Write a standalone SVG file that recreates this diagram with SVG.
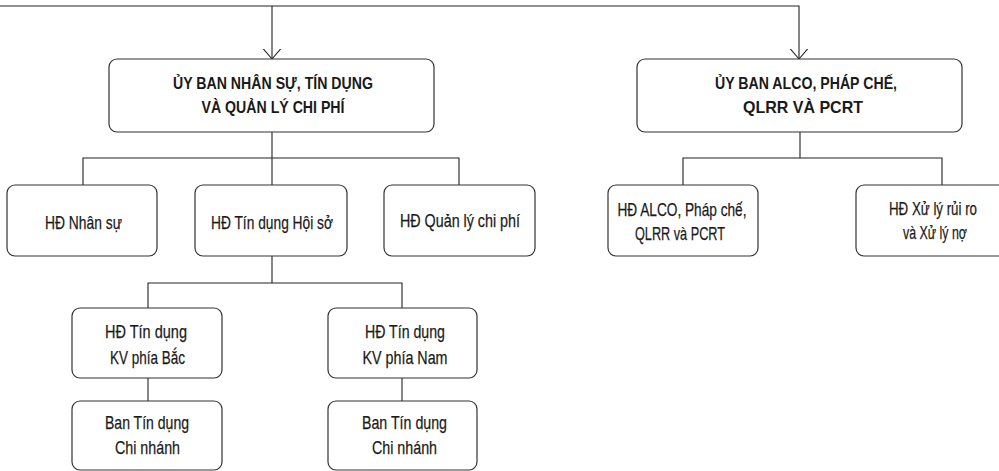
<svg xmlns="http://www.w3.org/2000/svg" width="999" height="471" viewBox="0 0 999 471">
<style>
.box{fill:#fff;stroke:#333;stroke-width:1.2}
.ln{fill:none;stroke:#222;stroke-width:1.1}
.t{font-family:"Liberation Sans",Arial,sans-serif;font-size:19px;fill:#1a1a1a;stroke:#1a1a1a;stroke-width:0.25;text-anchor:middle}
.tb{font-family:"Liberation Sans",Arial,sans-serif;font-size:16.5px;font-weight:bold;fill:#1a1a1a;text-anchor:middle}
</style>
<defs>
<marker id="arr" markerUnits="userSpaceOnUse" viewBox="0 -10 11 20" refX="10.5" refY="0" markerWidth="11" markerHeight="20" orient="auto">
<path d="M0,-9 L10.5,0 L0,9" fill="none" stroke="#222" stroke-width="1.1"/>
</marker>
</defs>
<g id="connectors">
<path class="ln" d="M0,6 H799 V59" marker-end="url(#arr)"/>
<path class="ln" d="M272,6 V59" marker-end="url(#arr)"/>
<path class="ln" d="M272,132 V185"/>
<path class="ln" d="M83,185 V158 H459 V185"/>
<path class="ln" d="M800,132 V158"/>
<path class="ln" d="M683,185 V158 H942 V185"/>
<path class="ln" d="M272,256 V283"/>
<path class="ln" d="M148,308 V283 H402 V308"/>
<path class="ln" d="M148,378 V401"/>
<path class="ln" d="M402,378 V401"/>
</g>
<g id="uyban-nhansu">
<rect class="box" x="109" y="59" width="325" height="73" rx="8"/>
<text class="tb" x="273" y="89" textLength="200" lengthAdjust="spacingAndGlyphs">ỦY BAN NHÂN SỰ, TÍN DỤNG</text>
<text class="tb" x="273" y="113" textLength="143" lengthAdjust="spacingAndGlyphs">VÀ QUẢN LÝ CHI PHÍ</text>
</g>
<g id="uyban-alco">
<rect class="box" x="637" y="59" width="325" height="73" rx="8"/>
<text class="tb" x="806" y="89" textLength="182" lengthAdjust="spacingAndGlyphs">ỦY BAN ALCO, PHÁP CHẾ,</text>
<text class="tb" x="803" y="113" textLength="120" lengthAdjust="spacingAndGlyphs">QLRR VÀ PCRT</text>
</g>
<g id="hd-nhansu">
<rect class="box" x="7" y="185" width="150" height="71" rx="8"/>
<text class="t" x="83.5" y="229" textLength="77" lengthAdjust="spacingAndGlyphs">HĐ Nhân sự</text>
</g>
<g id="hd-tindung-hoiso">
<rect class="box" x="195" y="185" width="152" height="71" rx="8"/>
<text class="t" x="272" y="229" textLength="122" lengthAdjust="spacingAndGlyphs">HĐ Tín dụng Hội sở</text>
</g>
<g id="hd-quanly-chiphi">
<rect class="box" x="384" y="185" width="151" height="71" rx="8"/>
<text class="t" x="460" y="227" textLength="120" lengthAdjust="spacingAndGlyphs">HĐ Quản lý chi phí</text>
</g>
<g id="hd-alco">
<rect class="box" x="608" y="185" width="150" height="71" rx="8"/>
<text class="t" x="682" y="216" textLength="129" lengthAdjust="spacingAndGlyphs">HĐ ALCO, Pháp chế,</text>
<text class="t" x="680" y="240" textLength="90" lengthAdjust="spacingAndGlyphs">QLRR và PCRT</text>
</g>
<g id="hd-xuly">
<rect class="box" x="856" y="185" width="158" height="71" rx="8"/>
<text class="t" x="933" y="215" textLength="88" lengthAdjust="spacingAndGlyphs">HĐ Xử lý rủi ro</text>
<text class="t" x="935" y="239" textLength="64" lengthAdjust="spacingAndGlyphs">và Xử lý nợ</text>
</g>
<g id="hd-kv-bac">
<rect class="box" x="72" y="308" width="150" height="70" rx="8"/>
<text class="t" x="146" y="338" textLength="82" lengthAdjust="spacingAndGlyphs">HĐ Tín dụng</text>
<text class="t" x="147.5" y="364" textLength="75" lengthAdjust="spacingAndGlyphs">KV phía Bắc</text>
</g>
<g id="ban-cn-bac">
<rect class="box" x="72" y="401" width="150" height="69" rx="8"/>
<text class="t" x="147" y="429" textLength="84" lengthAdjust="spacingAndGlyphs">Ban Tín dụng</text>
<text class="t" x="147.5" y="454" textLength="65" lengthAdjust="spacingAndGlyphs">Chi nhánh</text>
</g>
<g id="hd-kv-nam">
<rect class="box" x="328" y="308" width="149" height="70" rx="8"/>
<text class="t" x="405" y="338" textLength="80" lengthAdjust="spacingAndGlyphs">HĐ Tín dụng</text>
<text class="t" x="405" y="364" textLength="85" lengthAdjust="spacingAndGlyphs">KV phía Nam</text>
</g>
<g id="ban-cn-nam">
<rect class="box" x="328" y="401" width="149" height="69" rx="8"/>
<text class="t" x="404.5" y="429" textLength="85" lengthAdjust="spacingAndGlyphs">Ban Tín dụng</text>
<text class="t" x="404.5" y="454" textLength="65" lengthAdjust="spacingAndGlyphs">Chi nhánh</text>
</g>
</svg>
